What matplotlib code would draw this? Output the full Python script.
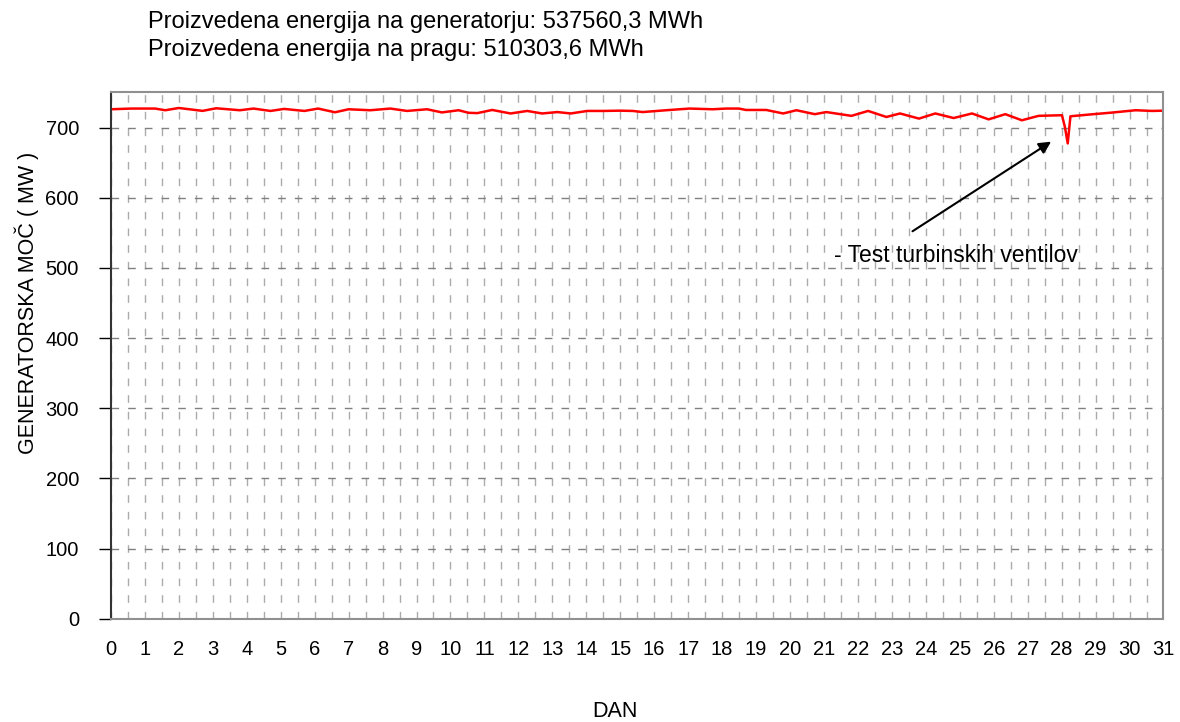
import numpy as np
import matplotlib.pyplot as plt
from matplotlib.ticker import MultipleLocator

plt.rcParams['font.family'] = ['Liberation Sans', 'DejaVu Sans']

# Generator power (day, MW)
day = [0.0, 0.6, 1.3, 1.6, 2.0, 2.7, 3.1, 3.8, 4.2, 4.7, 5.1, 5.7, 6.1, 6.6, 7.0,
       7.64, 8.23, 8.72, 9.31, 9.75, 10.24, 10.53, 10.79, 11.23, 11.77, 12.26, 12.7,
       13.15, 13.54, 14.03, 14.5, 14.99, 15.37, 15.66, 16.35, 17.04, 17.72, 18.12,
       18.5, 18.7, 19.3, 19.8, 20.19, 20.73, 21.07, 21.81, 22.3, 22.84, 23.24,
       23.8, 24.28, 24.82, 25.36, 25.85, 26.34, 26.83, 27.32, 28.01, 28.1, 28.18,
       28.26, 28.8, 29.49, 30.18, 30.67, 31.0]
power = [726, 727, 727, 724.6, 727.8, 723.7, 727.4, 724.6, 727, 723.6, 726.5, 723.6,
         727, 721.7, 726, 724.6, 727, 723.6, 726, 721.5, 724.6, 721, 720.5, 725, 720,
         723.6, 720, 722, 720, 723.6, 723.6, 724, 723.6, 722, 724.6, 727, 726, 727,
         727, 725, 725, 720, 724.6, 719, 722, 716.6, 723.6, 715, 720, 712.7, 720,
         713.5, 720, 711.6, 719, 710.3, 716.6, 717.5, 700, 677.3, 716, 718.4, 721.3,
         724.6, 723.6, 724]

title_lines = ["Proizvedena energija na generatorju: 537560,3 MWh",
               "Proizvedena energija na pragu: 510303,6 MWh"]
note = "- Test turbinskih ventilov"

fig = plt.figure(figsize=(11.8, 7.22), dpi=100)
ax = fig.add_axes([0.094, 0.143, 0.892, 0.729])

ax.plot(day, power, color='red', lw=1.8)

ax.set_xlim(0, 31)
ax.set_ylim(0, 750)
ax.xaxis.set_major_locator(MultipleLocator(1))
ax.xaxis.set_minor_locator(MultipleLocator(0.5))
ax.yaxis.set_major_locator(MultipleLocator(100))

dash = (0, (5.5, 6.5))
ax.grid(True, which='both', axis='x', color='#ababab', linestyle=dash, lw=1)
ax.grid(True, which='major', axis='y', color='#808080', linestyle=dash, lw=1)
ax.set_axisbelow(True)

ax.tick_params(axis='x', which='both', length=0, pad=15, labelsize=14.5)
ax.tick_params(axis='y', length=9, width=1, pad=14, labelsize=14.5)

for s in ['top', 'right', 'bottom']:
    ax.spines[s].set_color('#909090')
    ax.spines[s].set_linewidth(1.5)
ax.spines['left'].set_color('#333333')
ax.spines['left'].set_linewidth(1.5)

ax.set_ylabel("GENERATORSKA MOČ ( MW )", fontsize=15.5)
ax.yaxis.set_label_coords(-0.068, 0.60)
fig.text(0.521, 0.014, "DAN", fontsize=15.5, ha='center', va='center')

ax.annotate("", xy=(27.76, 682), xytext=(23.54, 550),
            arrowprops=dict(arrowstyle='-|>', color='black', lw=1.5, mutation_scale=18))
ax.text(21.3, 517, note, fontsize=16.5, va='center', ha='left')

fig.text(0.125, 0.970, title_lines[0], fontsize=17, va='center')
fig.text(0.125, 0.931, title_lines[1], fontsize=17, va='center')

fig.savefig('out.png', dpi=100)
